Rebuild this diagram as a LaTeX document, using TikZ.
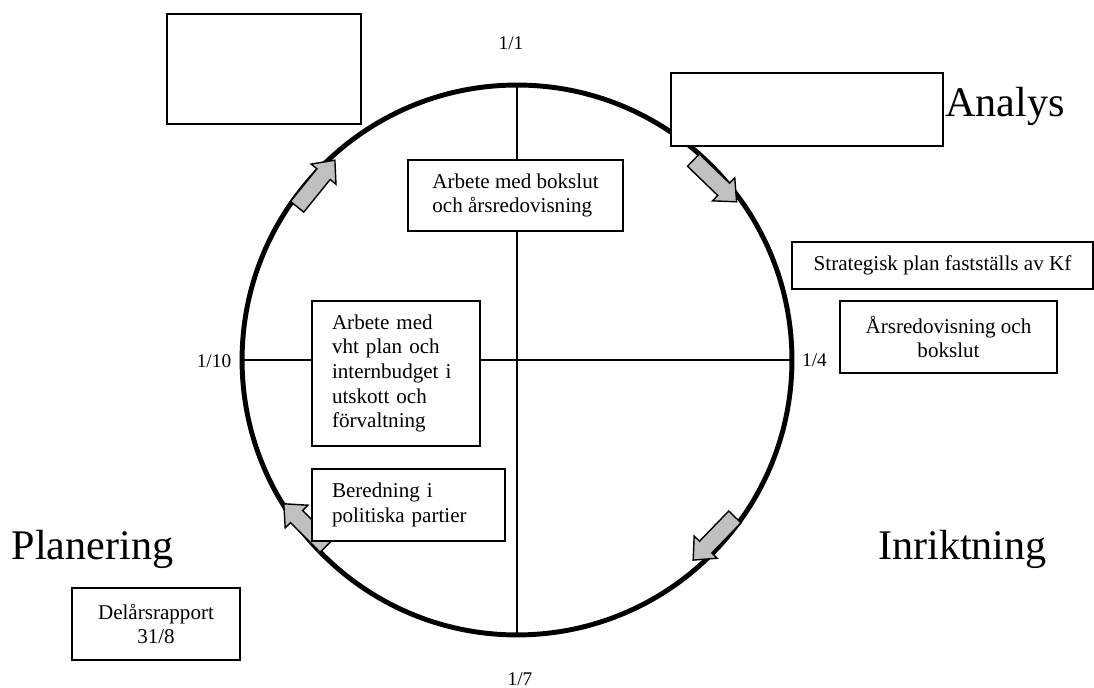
\documentclass[tikz,border=0pt]{standalone}
\usepackage{fontspec}
\setmainfont{Liberation Serif}
\usepackage{tikz}
\usetikzlibrary{positioning}

\definecolor{arrowgray}{RGB}{192,192,192}

\tikzset{
    textbox/.style={draw, line width=0.9pt, fill=white, inner sep=0pt, font=\fontsize{12}{14}\selectfont},
    phase/.style={anchor=base, font=\fontsize{24}{28}\selectfont},
    datelabel/.style={anchor=base, font=\fontsize{11}{13}\selectfont},
    cyclearrowstyle/.style={draw=black, fill=arrowgray, line width=0.8pt, line join=miter}
}

% block arrow along the circle: position, direction
\newcommand{\cyclearrow}[2]{%
    \draw[cyclearrowstyle, shift={(#1)}, rotate=#2] (-30,-8.5) -- (12,-8.5) -- (12,-16) -- (30,0) -- (12,16) -- (12,8.5) -- (-30,8.5) -- cycle;}

\begin{document}
\begin{tikzpicture}[x=0.02cm, y=0.02cm]
    \useasboundingbox (0,0) rectangle (1094,688);

    % year wheel
    \coordinate (ctr) at (517,328);
    \path (ctr) ++(90:275) coordinate (n);
    \path (ctr) ++(-90:275) coordinate (s);
    \path (ctr) ++(0:275) coordinate (e);
    \path (ctr) ++(180:275) coordinate (w);
    \draw[line width=0.8pt] (n) -- (s);
    \draw[line width=0.8pt] (w) -- (e);
    \draw[line width=2.8pt] (ctr) circle[radius=5.5cm];

    \cyclearrow{316,504.5}{51}
    \cyclearrow{715,507}{-44}
    \cyclearrow{714,149.5}{-134}
    \cyclearrow{305,163}{135}

    % dates
    \node[datelabel] (d11) at (511,638) {1/1};
    \node[datelabel] (d14) at (814.5,321) {1/4};
    \node[datelabel] (d110) at (214,320) {1/10};
    \node[datelabel] (d17) at (520,2) {1/7};

    % phases
    \node[phase] (analys) at (1005,571) {Analys};
    \node[phase] (planering) at (92.5,128) {Planering};
    \node[phase] (inriktning) at (962.5,128) {Inriktning};

    % boxes
    \node[textbox, minimum width=3.88cm, minimum height=2.2cm] (blankleft) at (264,619) {};
    \node[textbox, minimum width=5.44cm, minimum height=1.46cm] (blankright) at (807,578.5) {};
    \node[textbox, minimum width=4.3cm, minimum height=1.42cm, align=left] (bokslut) at (515.5,492.5) {Arbete med bokslut\\och årsredovisning};
    \node[textbox, minimum width=6.02cm, minimum height=0.94cm] (strategi) at (942.5,422.5) {Strategisk plan fastställs av Kf};
    \node[textbox, minimum width=4.34cm, minimum height=1.44cm, align=center] (arsred) at (948.5,351) {Årsredovisning och\\bokslut};
    \node[textbox, minimum height=2.9cm, inner xsep=0.4cm, text width=2.56cm, align=left] (vhtplan) at (396,314.5) {Arbete med\\vht plan och\\internbudget i\\utskott och\\förvaltning};
    \node[textbox, minimum height=1.44cm, inner xsep=0.4cm, text width=3.06cm, align=left] (beredning) at (408.5,183) {Beredning i\\politiska partier};
    \node[textbox, minimum width=3.36cm, minimum height=1.44cm, align=center] (delars) at (156,64) {Delårsrapport\\31/8};
\end{tikzpicture}
\end{document}
